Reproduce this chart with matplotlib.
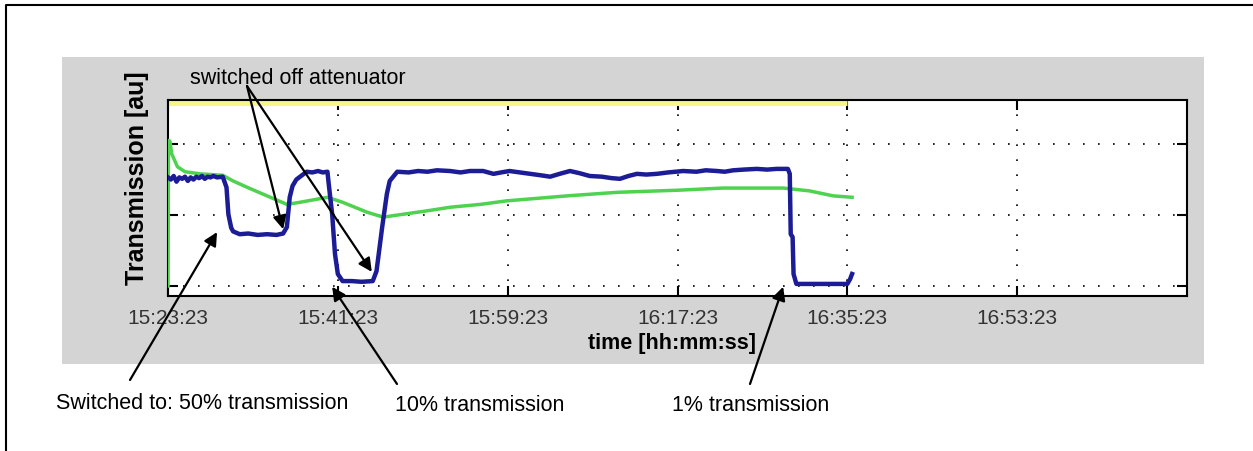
import matplotlib
matplotlib.use("Agg")
import matplotlib.pyplot as plt
from matplotlib.patches import Rectangle
from matplotlib.lines import Line2D

plt.rcParams['font.family'] = ['Liberation Sans', 'DejaVu Sans']

# Time axis: minutes since 15:23:23
tick_minutes = [0, 18, 36, 54, 72, 90]
tick_labels = ["15:23:23", "15:41:23", "15:59:23", "16:17:23", "16:35:23", "16:53:23"]
x_range = (0, 108)

# Blue trace: detector transmission
blue_t = [0.0, 0.3, 0.6, 0.9, 1.2, 1.5, 1.8, 2.1, 2.4, 2.7, 3.0, 3.3, 3.6, 3.9, 4.2,
          4.5, 4.8, 5.2, 5.8, 6.2, 6.4, 6.7, 6.9, 7.6, 8.5, 9.5, 10.5, 11.5, 12.2,
          12.6, 12.9, 13.2, 13.6, 14.0, 14.4, 14.7, 15.3, 15.9, 16.4, 16.9, 17.0,
          17.4, 17.7, 18.0, 18.5, 19.5, 20.5, 21.7, 22.1, 22.7, 23.2, 23.5, 24.3,
          25.5, 26.5, 27.5, 28.5, 29.9, 31.0, 32.0, 33.4, 34.5, 35.3, 36.2, 37.3,
          38.4, 39.5, 40.5, 41.5, 42.6, 43.6, 44.7, 46.0, 47.0, 47.9, 48.8, 49.7,
          50.7, 51.8, 53.0, 54.6, 56.0, 57.0, 58.2, 59.0, 59.9, 61.0, 62.4, 63.5,
          64.5, 65.7, 65.9, 66.0, 66.2, 66.3, 66.6, 68.0, 70.0, 72.0, 72.3, 72.5]
blue_v = [1.53, 1.50, 1.55, 1.47, 1.53, 1.51, 1.54, 1.48, 1.53, 1.50, 1.54, 1.52, 1.55,
          1.51, 1.54, 1.53, 1.55, 1.53, 1.54, 1.39, 1.01, 0.82, 0.77, 0.73, 0.74, 0.72,
          0.73, 0.72, 0.74, 0.83, 1.25, 1.41, 1.50, 1.54, 1.58, 1.61, 1.60, 1.62, 1.60,
          1.61, 1.48, 1.01, 0.45, 0.17, 0.07, 0.07, 0.06, 0.07, 0.21, 0.83, 1.30, 1.48,
          1.61, 1.60, 1.62, 1.61, 1.63, 1.62, 1.60, 1.62, 1.62, 1.58, 1.60, 1.62, 1.60,
          1.58, 1.56, 1.54, 1.58, 1.62, 1.59, 1.55, 1.54, 1.52, 1.51, 1.55, 1.58, 1.57,
          1.58, 1.60, 1.62, 1.61, 1.63, 1.62, 1.61, 1.63, 1.64, 1.65, 1.64, 1.65, 1.65,
          1.58, 0.73, 0.69, 0.17, 0.03, 0.03, 0.03, 0.03, 0.10, 0.17]

# Green trace: reference signal
green_t = [0.0, 0.05, 0.2, 0.4, 1.0, 1.8, 3.4, 5.8, 6.9, 8.4, 10.5, 12.6, 14.0, 16.9,
           18.5, 21.1, 22.8, 23.8, 27.5, 29.9, 33.1, 35.9, 42.3, 47.6, 54.1, 58.8,
           65.2, 68.0, 70.5, 72.5]
green_v = [0.0, 2.05, 2.04, 1.86, 1.68, 1.61, 1.58, 1.56, 1.48, 1.39, 1.27, 1.15, 1.18,
           1.25, 1.18, 1.04, 0.97, 0.99, 1.06, 1.11, 1.15, 1.20, 1.27, 1.32, 1.35, 1.38,
           1.38, 1.34, 1.27, 1.25]

# Yellow trace: saturated channel sitting on the upper limit
yellow_t = [0.0, 72.0]
yellow_v = [2.62, 2.62]

y_ticks = [0, 1, 2]
y_range = (-0.14, 2.62)

W, H = 1253, 452
fig = plt.figure(figsize=(W / 100, H / 100), dpi=100)
fig.patch.set_facecolor("white")


def fx(px):
    return px / W


def fy(py):
    return 1 - py / H


# Grey window panel behind the plot
fig.add_artist(Rectangle((fx(62), fy(365)), fx(1204) - fx(62), fy(58) - fy(365),
                         transform=fig.transFigure, facecolor="#d4d4d4",
                         edgecolor="none", zorder=0))
# Outer frame (left and top edges)
fig.add_artist(Line2D([fx(6), fx(6), fx(1253)], [fy(452), fy(6), fy(6)],
                      transform=fig.transFigure, color="black", lw=1.5))

ax = fig.add_axes([fx(168), fy(297), fx(1187) - fx(168), fy(101) - fy(297)])
ax.set_facecolor("white")
ax.set_zorder(1)

ax.plot(yellow_t, yellow_v, color="#f6f68c", lw=8, solid_capstyle="butt", zorder=2)
ax.plot(green_t, green_v, color="#4fd24f", lw=2.5, zorder=3)
ax.plot(blue_t, blue_v, color="#1c1c96", lw=3.2, zorder=4)

ax.set_xlim(*x_range)
ax.set_ylim(*y_range)
ax.set_xticks(tick_minutes)
ax.set_xticklabels(tick_labels)
ax.set_yticks(y_ticks)
ax.set_yticklabels([])
ax.grid(True, color="black", linestyle=(0, (1, 8)), lw=1.2)
ax.tick_params(direction="in", length=7, width=1.5, top=True, right=True,
               labelsize=15, labelcolor="#333333", pad=9)
for s in ax.spines.values():
    s.set_linewidth(1.5)
    s.set_color("black")

fig.text(fx(672), fy(344), "time [hh:mm:ss]", ha="center", va="center",
         fontsize=15.5, fontweight="bold")
fig.text(fx(137), fy(178), "Transmission [au]", ha="center", va="center",
         rotation=90, fontsize=18, fontweight="bold")

fig.text(fx(190), fy(79), "switched off attenuator", ha="left", va="center",
         fontsize=15.5, zorder=5)
fig.text(fx(56), fy(404), "Switched to: 50% transmission", ha="left", va="center",
         fontsize=15.5)
fig.text(fx(395), fy(406), "10% transmission", ha="left", va="center", fontsize=15.5)
fig.text(fx(672), fy(406), "1% transmission", ha="left", va="center", fontsize=15.5)

arrow = dict(arrowstyle="-|>", color="black", lw=1.6, mutation_scale=20,
             shrinkA=0, shrinkB=0)
# (tip in data coordinates, tail in figure pixels from top-left)
arrows = [((12.2, 0.80), (247, 87)),
          ((21.6, 0.20), (247, 87)),
          ((5.2, 0.76), (130, 381)),
          ((17.4, -0.01), (397, 385)),
          ((65.2, -0.01), (750, 385))]
for tip, tail in arrows:
    ax.annotate("", xy=tip, xycoords="data",
                xytext=(fx(tail[0]), fy(tail[1])), textcoords="figure fraction",
                arrowprops=arrow, annotation_clip=False, zorder=6)

fig.savefig("out.png", dpi=100)
